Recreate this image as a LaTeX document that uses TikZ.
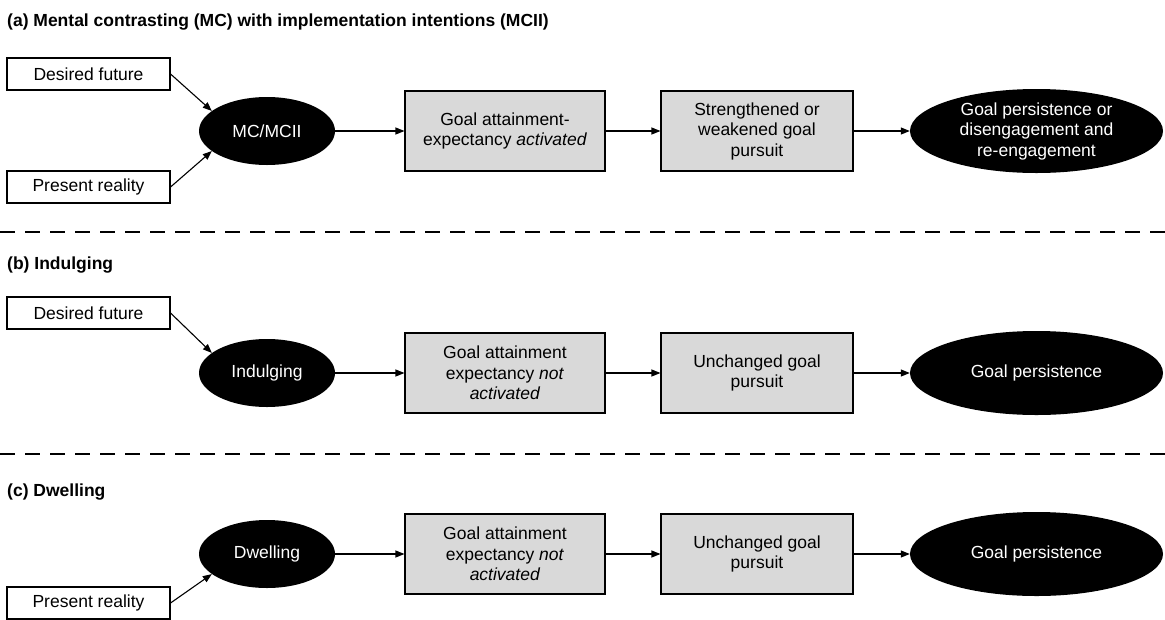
\documentclass[tikz,border=0pt]{standalone}
\usepackage{fontspec}
\setmainfont{Liberation Sans}
\usepackage{xcolor}
\usetikzlibrary{shapes.geometric, arrows.meta}

\definecolor{boxgray}{HTML}{D9D9D9}

\begin{document}
\begin{tikzpicture}[
    x=1pt, y=-1pt,
    font=\fontsize{17.5}{20.5}\selectfont,
    input/.style   ={draw, line width=1.1pt, minimum width=163pt, minimum height=32pt,
                     inner sep=2pt, fill=white},
    state/.style   ={ellipse, fill=black, text=white, inner sep=0pt, align=center},
    stage/.style   ={draw, line width=1.1pt, fill=boxgray, align=center,
                     minimum height=80pt, inner sep=2pt},
    outcome/.style ={state, minimum width=253pt, minimum height=84pt},
    heading/.style ={anchor=west, inner sep=0pt, font=\fontsize{17.5}{20}\selectfont\bfseries},
    flow/.style    ={-{Triangle[length=9pt,width=7pt]}, line width=1.1pt},
    divider/.style ={line width=2.6pt, dash pattern=on 15pt off 10pt}
]
\useasboundingbox (0,0) rectangle (1165,619);

% =================== (a) MC / MCII ===================
\node[heading] (ta) at (7,22) {(a) Mental contrasting (MC) with implementation intentions (MCII)};
\node[input] (dfa) at (88.5,74) {Desired future};
\node[input] (pra) at (88.5,187) {Present reality};
\node[state, minimum width=136pt, minimum height=68pt] (mc) at (267,131) {MC/MCII};
\node[stage, minimum width=200pt] (gea) at (505,131) {Goal attainment-\\expectancy \textit{activated}};
\node[stage, minimum width=192pt] (gpa) at (757,131) {Strengthened or\\weakened goal\\pursuit};
\node[outcome] (outa) at (1036.5,131) {Goal persistence or\\disengagement and\\re-engagement};

\draw[flow] (dfa.east) -- (mc.160);
\draw[flow] (pra.east) -- (mc.200);
\draw[flow] (mc.east) -- (gea.west);
\draw[flow] (gea.east) -- (gpa.west);
\draw[flow] (gpa.east) -- (outa.west);

\coordinate (d1l) at (0,232);
\coordinate (d1r) at (1165,232);
\draw[divider] (d1l) -- (d1r);

% =================== (b) Indulging ===================
\node[heading] (tb) at (7,265) {(b) Indulging};
\node[input] (dfb) at (88.5,313) {Desired future};
\node[state, minimum width=136pt, minimum height=68pt] (ind) at (267,373) {Indulging};
\node[stage, minimum width=200pt] (geb) at (505,373) {Goal attainment\\expectancy \textit{not}\\\textit{activated}};
\node[stage, minimum width=192pt] (gpb) at (757,373) {Unchanged goal\\pursuit};
\node[outcome] (outb) at (1036.5,373) {Goal persistence};

\draw[flow] (dfb.east) -- (ind.160);
\draw[flow] (ind.east) -- (geb.west);
\draw[flow] (geb.east) -- (gpb.west);
\draw[flow] (gpb.east) -- (outb.west);

\coordinate (d2l) at (0,454);
\coordinate (d2r) at (1165,454);
\draw[divider] (d2l) -- (d2r);

% =================== (c) Dwelling ===================
\node[heading] (tc) at (7,492) {(c) Dwelling};
\node[state, minimum width=136pt, minimum height=68pt] (dwe) at (267,554) {Dwelling};
\node[input] (prc) at (88.5,603) {Present reality};
\node[stage, minimum width=200pt] (gec) at (505,554) {Goal attainment\\expectancy \textit{not}\\\textit{activated}};
\node[stage, minimum width=192pt] (gpc) at (757,554) {Unchanged goal\\pursuit};
\node[outcome] (outc) at (1036.5,554) {Goal persistence};

\draw[flow] (prc.east) -- (dwe.200);
\draw[flow] (dwe.east) -- (gec.west);
\draw[flow] (gec.east) -- (gpc.west);
\draw[flow] (gpc.east) -- (outc.west);

\end{tikzpicture}
\end{document}
